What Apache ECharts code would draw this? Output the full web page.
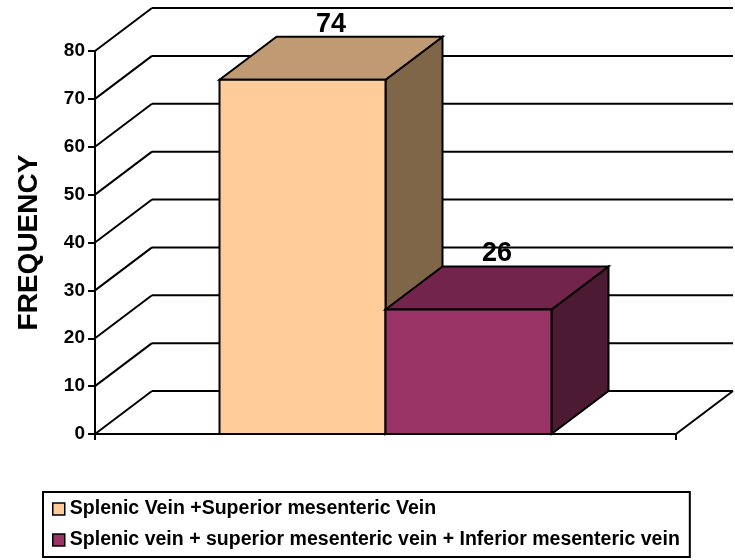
<!DOCTYPE html>
<html>
<head>
<meta charset="utf-8">
<style>
html,body{margin:0;padding:0;background:#fff;}
#chart{width:735px;height:560px;}
</style>
<script src="https://cdn.jsdelivr.net/npm/echarts@6/dist/echarts.min.js"></script>
</head>
<body>
<div id="chart"></div>
<script>
// ---- data ----
var categories = [''];
var seriesNames = [
  'Splenic Vein +Superior mesenteric Vein',
  'Splenic vein + superior mesenteric vein + Inferior mesenteric vein'
];
var seriesValues = [74, 26];
var yTicks = [0, 10, 20, 30, 40, 50, 60, 70, 80];

// ---- style ----
var FONT = "'Liberation Sans', Arial, Helvetica, sans-serif";
var DX = 57, DY = 43;          // depth offset of the 3D walls
var BAR_FRAC = 0.2857;         // bar width as fraction of category band
var faceColors = [
  {front: '#FFCC99', top: '#C09A72', side: '#806649'},
  {front: '#993366', top: '#73244D', side: '#4D1A33'}
];

var chart = echarts.init(document.getElementById('chart'));

function wallRender(params, api) {
  var cs = params.coordSys;
  var v = api.value(0);
  var y = api.coord([0, v])[1];
  var gx = cs.x, gw = cs.width;
  var ls = {stroke: '#000', lineWidth: 2};
  var children = [
    {type: 'line', shape: {x1: gx, y1: y, x2: gx + DX, y2: y - DY}, style: ls},
    {type: 'line', shape: {x1: gx + DX, y1: y - DY, x2: gx + gw + DX, y2: y - DY}, style: ls}
  ];
  if (v === 0) {
    children.push({type: 'line', shape: {x1: gx + gw, y1: y, x2: gx + gw + DX, y2: y - DY}, style: ls});
  }
  return {type: 'group', children: children};
}

function makeBarRender(idx) {
  return function (params, api) {
    var v = api.value(1);
    var base = api.coord([api.value(0), 0]);
    var top = api.coord([api.value(0), v]);
    var band = api.size([1, 0])[0];
    var bw = band * BAR_FRAC;
    var x0 = base[0] - bw + idx * bw;
    var x1 = x0 + bw;
    var yb = base[1], yt = top[1];
    var c = faceColors[idx];
    var st = {stroke: '#000', lineWidth: 2, lineJoin: 'miter'};
    return {
      type: 'group',
      children: [
        {type: 'polygon', shape: {points: [[x1, yb], [x1 + DX, yb - DY], [x1 + DX, yt - DY], [x1, yt]]},
          style: Object.assign({fill: c.side}, st)},
        {type: 'polygon', shape: {points: [[x0, yt], [x0 + DX, yt - DY], [x1 + DX, yt - DY], [x1, yt]]},
          style: Object.assign({fill: c.top}, st)},
        {type: 'rect', shape: {x: x0, y: yt, width: bw, height: yb - yt},
          style: Object.assign({fill: c.front}, st)},
        {type: 'text', style: {
          text: String(v), x: (x0 + x1) / 2 + DX / 2, y: yt - DY + 1,
          align: 'center', verticalAlign: 'bottom',
          font: 'bold 27px ' + FONT, fill: '#000'
        }}
      ]
    };
  };
}

var series = [{
  type: 'custom',
  name: '_walls',
  silent: true,
  z: 1,
  clip: false,
  renderItem: wallRender,
  encode: {y: 0},
  data: yTicks.map(function (t) { return [t]; })
}];
seriesValues.forEach(function (val, i) {
  series.push({
    type: 'custom',
    name: seriesNames[i],
    z: 3 + i,
    clip: false,
    itemStyle: {color: faceColors[i].front},
    renderItem: makeBarRender(i),
    encode: {x: 0, y: 1},
    data: [[0, val]]
  });
});

chart.setOption({
  animation: false,
  backgroundColor: '#fff',
  grid: {left: 95, right: 59, top: 51, bottom: 126},
  xAxis: {
    type: 'category',
    data: categories,
    axisLine: {show: true, lineStyle: {color: '#000', width: 2}},
    axisTick: {show: true, length: 6, lineStyle: {color: '#000', width: 2}},
    axisLabel: {show: false},
    splitLine: {show: false}
  },
  yAxis: {
    type: 'value',
    min: 0, max: 80, interval: 10,
    name: 'FREQUENCY',
    nameLocation: 'middle',
    nameRotate: 90,
    nameGap: 52,
    nameTextStyle: {fontFamily: FONT, fontWeight: 'bold', fontSize: 28, color: '#000'},
    axisLine: {show: true, lineStyle: {color: '#000', width: 2}},
    axisTick: {show: true, length: 7, lineStyle: {color: '#000', width: 2}},
    axisLabel: {margin: 10, fontFamily: FONT, fontWeight: 'bold', fontSize: 19, color: '#000',
      formatter: function (v) { return yTicks.indexOf(v) >= 0 ? String(v) : ''; }},
    splitLine: {show: false}
  },
  legend: {
    orient: 'vertical',
    left: 43, top: 492,
    padding: [6, 10, 6, 9],
    itemGap: 9,
    itemWidth: 12, itemHeight: 12,
    borderColor: '#000', borderWidth: 2,
    backgroundColor: '#fff',
    textStyle: {fontFamily: FONT, fontWeight: 'bold', fontSize: 19.55, color: '#000', lineHeight: 22},
    data: seriesNames.map(function (n, i) {
      return {name: n, icon: 'rect',
        itemStyle: {color: faceColors[i].front, borderColor: '#000', borderWidth: 1.5}};
    })
  },
  series: series
});
</script>
</body>
</html>
